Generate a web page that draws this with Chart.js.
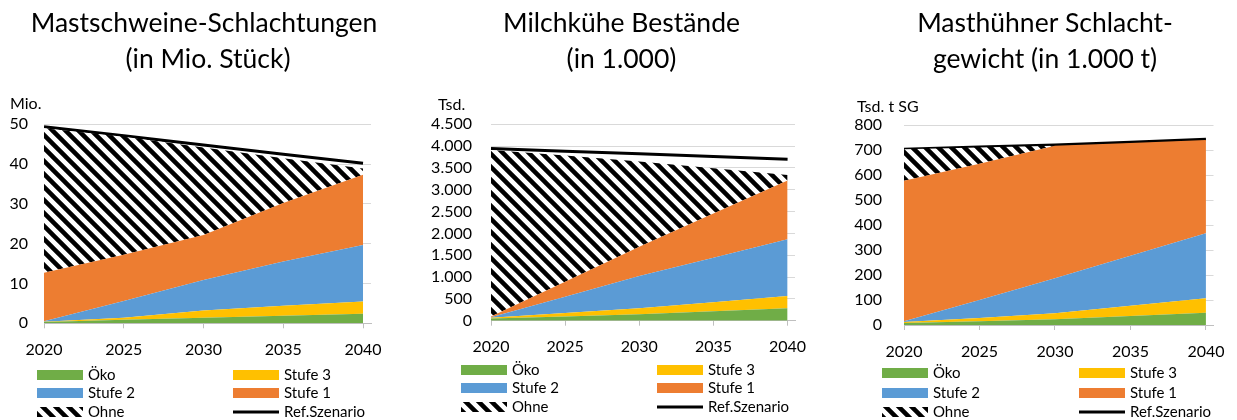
<!DOCTYPE html>
<html>
<head>
<meta charset="utf-8">
<script src="https://cdn.jsdelivr.net/npm/chart.js@4"></script>
<style>
  html, body { margin: 0; padding: 0; width: 1237px; height: 420px; overflow: hidden; background: #fff; }
  .box { position: absolute; top: 0; height: 420px; }
</style>
</head>
<body>
<div class="box" style="left:0;width:415px"><canvas id="c1"></canvas></div>
<div class="box" style="left:415px;width:415px"><canvas id="c2"></canvas></div>
<div class="box" style="left:830px;width:407px"><canvas id="c3"></canvas></div>
<script>
// Jahre (x-Achse)
const years = [2020, 2025, 2030, 2035, 2040];
const seriesNames = ['Öko', 'Stufe 3', 'Stufe 2', 'Stufe 1', 'Ohne', 'Ref.Szenario'];

// Mastschweine-Schlachtungen (Mio. Stück)
const schweineOeko = [0.3, 0.9, 1.4, 1.9, 2.4];
const schweineStufe3 = [0.1, 0.5, 1.8, 2.5, 3.1];
const schweineStufe2 = [0.1, 4.2, 7.7, 11.1, 14.2];
const schweineStufe1 = [12.2, 11.6, 11.3, 14.7, 17.6];
const schweineOhne = [36.3, 29.7, 22.0, 11.3, 1.6];
const schweineRef = [49.4, 47.1, 44.8, 42.5, 40.2];

// Milchkühe Bestände (Tsd.)
const kueheOeko = [50, 95, 145, 215, 283];
const kueheStufe3 = [20, 80, 138, 210, 283];
const kueheStufe2 = [10, 375, 742, 1020, 1299];
const kueheStufe1 = [15, 345, 672, 1010, 1346];
const kueheOhne = [3819, 2889, 1950, 1039, 130];
const kueheRef = [3945, 3885, 3823, 3760, 3700];

// Masthühner Schlachtgewicht (Tsd. t SG)
const huehnerOeko = [8, 15, 23, 36, 49];
const huehnerStufe3 = [4, 13, 24, 41, 58];
const huehnerStufe2 = [3, 72, 140, 200, 260];
const huehnerStufe1 = [562, 545, 530, 451, 373];
const huehnerOhne = [126, 65, 0, 0, 0];
const huehnerRef = [703, 712, 720, 731, 743];

const colors = ['#70AD47', '#FFC000', '#5B9BD5', '#ED7D31'];
const FONT = 'Lato, "Noto Sans", sans-serif';

// Schraffur für "Ohne"
function hatch() {
    const c = document.createElement('canvas');
    c.width = 13; c.height = 13;
    const g = c.getContext('2d');
    g.fillStyle = '#fff';
    g.fillRect(0, 0, 13, 13);
    g.strokeStyle = '#000';
    g.lineWidth = 4.5;
    g.beginPath();
    g.moveTo(-2, -2); g.lineTo(15, 15);
    g.moveTo(-2, 11); g.lineTo(2, 15);
    g.moveTo(11, -2); g.lineTo(15, 2);
    g.stroke();
    return g.createPattern(c, 'repeat');
}

// Titel, Einheit oben links und Legende in zwei Spalten
const extras = {
    id: 'extras',
    afterDraw(chart, args, opts) {
        const ctx = chart.ctx;
        ctx.save();
        ctx.fillStyle = '#000';

        ctx.font = '26.5px ' + FONT;
        ctx.textAlign = 'center';
        ctx.textBaseline = 'alphabetic';
        opts.title.forEach((line, i) => ctx.fillText(line, opts.titleX[i], opts.titleY[i]));

        ctx.textAlign = 'left';
        ctx.textBaseline = 'middle';
        ctx.font = '16px ' + FONT;
        ctx.fillText(opts.unit, opts.unitX, opts.unitY);

        ctx.font = '15px ' + FONT;
        chart.data.datasets.forEach((ds, i) => {
            const x = opts.cols[i % 2];
            const y = opts.rows[Math.floor(i / 2)];
            if (ds.fill === false) {
                ctx.strokeStyle = ds.borderColor;
                ctx.lineWidth = 3;
                ctx.beginPath();
                ctx.moveTo(x, y);
                ctx.lineTo(x + 46, y);
                ctx.stroke();
            } else {
                ctx.fillStyle = ds.backgroundColor;
                ctx.fillRect(x, y - 5, 46, 10);
            }
            ctx.fillStyle = '#000';
            ctx.fillText(ds.label, x + 51, y);
        });
        ctx.restore();
    }
};

function fmt(v) {
    return String(v).replace(/\B(?=(\d{3})+(?!\d))/g, '.');
}

function makeChart(id, s) {
    const pts = arr => arr.map((v, i) => ({ x: years[i], y: v }));
    const pattern = hatch();
    const sets = s.values.map((vals, i) => ({
        label: seriesNames[i],
        data: pts(vals),
        backgroundColor: i < 4 ? colors[i] : pattern,
        borderWidth: 0,
        pointRadius: 0,
        fill: i === 0 ? 'origin' : '-1',
        stack: 'a'
    }));
    sets.push({
        label: seriesNames[5],
        data: pts(s.ref),
        borderColor: '#000',
        backgroundColor: '#000',
        borderWidth: 3,
        pointRadius: 0,
        fill: false,
        stack: 'ref'
    });

    new Chart(document.getElementById(id), {
        type: 'line',
        data: { datasets: sets },
        options: {
            responsive: true,
            maintainAspectRatio: false,
            animation: false,
            layout: { padding: { left: 0, top: s.top, right: s.padRight, bottom: 420 - s.bottom - 40 } },
            plugins: {
                legend: { display: false },
                tooltip: { enabled: false },
                title: { display: false },
                extras: s.extras
            },
            scales: {
                x: {
                    type: 'linear',
                    min: 2020,
                    max: 2040.5,
                    afterFit: sc => { sc.height = 40; },
                    ticks: {
                        stepSize: 5,
                        includeBounds: false,
                        padding: 12,
                        color: '#000',
                        font: { family: FONT, size: 16 },
                        callback: v => String(v)
                    },
                    grid: { drawOnChartArea: false, tickLength: 5, color: '#BFBFBF' },
                    border: { display: true, color: '#BFBFBF' }
                },
                y: {
                    stacked: true,
                    min: 0,
                    max: s.yMax,
                    afterFit: sc => { sc.width = s.yWidth; },
                    ticks: {
                        stepSize: s.yStep,
                        autoSkip: false,
                        padding: s.tickPad,
                        color: '#000',
                        font: { family: FONT, size: 16 },
                        callback: v => fmt(v)
                    },
                    grid: { color: '#D9D9D9', drawTicks: false },
                    border: { display: false }
                }
            }
        },
        plugins: [extras]
    });
}

makeChart('c1', {
    values: [schweineOeko, schweineStufe3, schweineStufe2, schweineStufe1, schweineOhne],
    ref: schweineRef,
    yMax: 50, yStep: 10, yWidth: 44, tickPad: 16,
    top: 124.3, bottom: 323.3, padRight: 44,
    extras: {
        title: ['Mastschweine-Schlachtungen', '(in Mio. Stück)'], titleX: [204, 208], titleY: [32, 68],
        unit: 'Mio.', unitX: 10, unitY: 104, cols: [37, 233], rows: [375, 393, 412]
    }
});

makeChart('c2', {
    values: [kueheOeko, kueheStufe3, kueheStufe2, kueheStufe1, kueheOhne],
    ref: kueheRef,
    yMax: 4500, yStep: 500, yWidth: 76, tickPad: 19,
    top: 124.3, bottom: 320.7, padRight: 35,
    extras: {
        title: ['Milchkühe Bestände', '(in 1.000)'], titleX: [206.5, 206.5], titleY: [32, 68],
        unit: 'Tsd.', unitX: 23, unitY: 105, cols: [46, 242], rows: [370, 388, 407]
    }
});

makeChart('c3', {
    values: [huehnerOeko, huehnerStufe3, huehnerStufe2, huehnerStufe1, huehnerOhne],
    ref: huehnerRef,
    yMax: 800, yStep: 100, yWidth: 74, tickPad: 22,
    top: 125, bottom: 325, padRight: 20,
    extras: {
        title: ['Masthühner Schlacht-', 'gewicht (in 1.000 t)'], titleX: [215, 215], titleY: [32, 68],
        unit: 'Tsd. t SG', unitX: 27, unitY: 107, cols: [52, 249], rows: [373, 393, 412]
    }
});
</script>
</body>
</html>
